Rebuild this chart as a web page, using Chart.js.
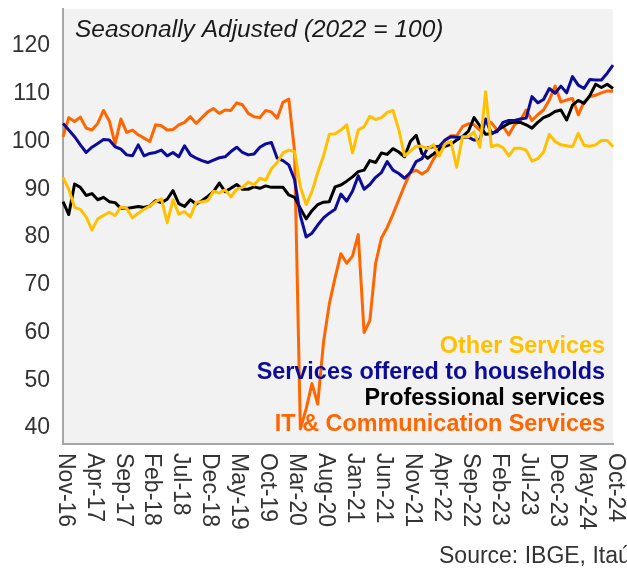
<!DOCTYPE html>
<html>
<head>
<meta charset="utf-8">
<script src="https://cdn.jsdelivr.net/npm/chart.js@4.4.0/dist/chart.umd.min.js"></script>
<style>
  html, body { margin: 0; padding: 0; background: #ffffff; }
  canvas { display: block; }
</style>
</head>
<body>
<canvas id="c" width="627" height="572"></canvas>
<script>
const months = [
  "Nov-16","Dec-16",
  "Jan-17","Feb-17","Mar-17","Apr-17","May-17","Jun-17","Jul-17","Aug-17","Sep-17","Oct-17","Nov-17","Dec-17",
  "Jan-18","Feb-18","Mar-18","Apr-18","May-18","Jun-18","Jul-18","Aug-18","Sep-18","Oct-18","Nov-18","Dec-18",
  "Jan-19","Feb-19","Mar-19","Apr-19","May-19","Jun-19","Jul-19","Aug-19","Sep-19","Oct-19","Nov-19","Dec-19",
  "Jan-20","Feb-20","Mar-20","Apr-20","May-20","Jun-20","Jul-20","Aug-20","Sep-20","Oct-20","Nov-20","Dec-20",
  "Jan-21","Feb-21","Mar-21","Apr-21","May-21","Jun-21","Jul-21","Aug-21","Sep-21","Oct-21","Nov-21","Dec-21",
  "Jan-22","Feb-22","Mar-22","Apr-22","May-22","Jun-22","Jul-22","Aug-22","Sep-22","Oct-22","Nov-22","Dec-22",
  "Jan-23","Feb-23","Mar-23","Apr-23","May-23","Jun-23","Jul-23","Aug-23","Sep-23","Oct-23","Nov-23","Dec-23",
  "Jan-24","Feb-24","Mar-24","Apr-24","May-24","Jun-24","Jul-24","Aug-24","Sep-24","Oct-24"
];

const xTickLabels = ["Nov-16","Apr-17","Sep-17","Feb-18","Jul-18","Dec-18","May-19","Oct-19","Mar-20","Aug-20",
  "Jan-21","Jun-21","Nov-21","Apr-22","Sep-22","Feb-23","Jul-23","Dec-23","May-24","Oct-24"];

const yTickValues = [40, 50, 60, 70, 80, 90, 100, 110, 120];

const otherServices = [
  92.5,90.0,86.2,85.8,84.2,81.5,83.8,84.5,85.2,84.5,86.3,86.0,84.0,85.0,85.8,86.5,87.4,88.0,83.0,87.8,
  84.8,85.3,84.2,87.3,87.4,87.6,89.6,89.2,89.9,88.4,90.0,90.4,91.5,90.9,92.3,91.9,94.3,95.6,97.6,98.2,
  97.9,90.5,86.8,89.5,93.5,97.0,101.5,101.6,102.4,103.5,97.6,102.4,103.1,105.3,104.6,105.0,106.1,106.5,102.5,97.0,
  98.0,99.0,99.0,98.5,99.3,97.0,99.5,100.0,94.6,101.0,101.0,102.0,98.8,110.4,98.9,99.3,98.7,97.0,98.6,98.6,
  98.2,95.9,96.4,97.8,101.5,100.0,99.3,99.1,98.9,101.7,99.2,99.0,99.3,100.2,100.2,98.9
];

const householdServices = [
  103.8,102.4,101.0,99.3,97.7,98.8,99.6,100.4,100.3,98.9,98.4,97.2,97.0,99.3,97.0,97.5,97.7,98.2,97.0,97.7,
  96.8,99.1,97.2,96.5,96.0,95.6,96.1,96.6,96.8,97.9,98.8,97.7,97.2,97.4,98.8,99.5,99.8,96.5,96.0,95.1,
  92.0,84.5,80.0,80.8,82.5,84.0,85.0,85.8,89.0,87.5,89.6,92.8,90.0,91.0,92.5,93.5,95.8,94.0,93.3,92.3,
  93.5,95.8,96.4,98.7,98.9,99.0,100.3,101.0,100.9,100.9,100.9,100.3,100.3,104.7,101.7,102.1,104.0,104.4,104.4,104.7,
  104.9,109.4,108.1,108.8,111.1,110.1,111.6,110.2,113.6,111.8,111.1,113.0,112.9,112.9,114.3,116.0
];

const professionalServices = [
  87.4,84.7,91.1,90.4,88.7,89.1,87.8,88.3,87.4,87.2,86.0,86.0,86.2,86.4,86.2,86.5,87.6,87.2,87.9,89.7,
  87.0,86.4,87.8,86.9,87.6,88.5,89.5,91.3,89.5,90.2,91.0,90.0,90.0,90.5,90.2,90.7,90.4,90.4,90.4,88.8,
  88.3,86.0,83.8,85.5,86.8,87.3,87.4,90.5,90.9,91.7,92.6,93.7,94.0,96.0,95.6,97.6,97.3,98.5,97.8,96.8,
  100.0,101.3,97.5,96.5,97.4,98.4,99.0,99.4,100.3,101.0,102.1,105.0,103.3,101.5,101.6,102.3,103.1,103.8,104.1,104.0,
  103.5,102.8,104.0,105.0,105.5,106.3,106.6,104.5,107.6,108.6,108.0,109.6,112.0,111.3,112.0,111.1
];

const itCommServices = [
  101.0,105.0,104.2,105.1,102.8,102.4,103.8,106.5,104.3,99.5,104.7,101.9,102.4,101.4,100.7,100.0,103.5,103.3,102.4,102.5,
  103.5,104.0,105.2,103.8,105.0,106.2,106.9,105.9,106.6,106.5,108.1,107.7,105.9,105.2,105.0,106.5,106.2,104.9,108.2,108.9,
  98.0,39.8,44.0,49.3,45.0,58.0,66.0,71.5,76.5,74.5,76.0,80.5,60.0,62.5,74.5,79.8,82.0,84.8,87.8,90.8,
  93.5,94.0,93.2,94.0,96.3,98.2,100.3,101.2,101.2,103.1,103.7,103.5,102.4,104.5,103.9,102.4,103.2,101.4,103.5,104.4,
  106.6,104.4,105.6,106.6,108.7,111.6,108.3,108.7,109.0,105.6,108.3,109.4,109.7,110.2,110.6,110.5
];

const seriesNames = ["Other Services", "Services offered to households", "Professional services", "IT & Communication Services"];
const seriesColors = ["#FFC000", "#0C0C96", "#000000", "#FF6600"];

const FONT = '"Liberation Sans", Arial, sans-serif';

const bgPlugin = {
  id: 'bg',
  beforeDraw(chart) {
    const { ctx, chartArea: a } = chart;
    ctx.save();
    ctx.fillStyle = '#f2f2f2';
    ctx.fillRect(a.left, a.top, a.right - a.left, a.bottom - a.top);
    ctx.restore();
  }
};

const textPlugin = {
  id: 'texts',
  afterDatasetsDraw(chart) {
    const { ctx } = chart;
    ctx.save();
    ctx.font = 'italic 24.5px ' + FONT;
    ctx.fillStyle = '#1a1a1a';
    ctx.textAlign = 'left';
    ctx.textBaseline = 'middle';
    ctx.fillText('Seasonally Adjusted (2022 = 100)', 75, 30);
    ctx.font = 'bold 23.4px ' + FONT;
    ctx.textAlign = 'right';
    const ys = [347, 373, 399, 425];
    seriesNames.forEach((n, i) => {
      ctx.fillStyle = seriesColors[i];
      ctx.fillText(n, 605, ys[i]);
    });
    ctx.restore();
  },
  afterDraw(chart) {
    const { ctx } = chart;
    const xs = chart.scales.x;
    ctx.save();
    ctx.font = '23px ' + FONT;
    ctx.fillStyle = '#333333';
    ctx.textAlign = 'left';
    ctx.textBaseline = 'middle';
    xTickLabels.forEach(lbl => {
      const px = xs.getPixelForValue(months.indexOf(lbl)) + 2;
      ctx.save();
      ctx.translate(px, 453);
      ctx.rotate(Math.PI / 2);
      ctx.fillText(lbl, 0, 0);
      ctx.restore();
    });
    ctx.fillText('Source: IBGE, Itaú', 439, 557);
    ctx.restore();
  }
};

const allSeries = [otherServices, householdServices, professionalServices, itCommServices];

new Chart(document.getElementById('c'), {
  type: 'line',
  data: {
    labels: months,
    datasets: allSeries.map((d, i) => ({
      label: seriesNames[i],
      data: d,
      borderColor: seriesColors[i],
      backgroundColor: seriesColors[i],
      borderWidth: 3,
      pointRadius: 0,
      tension: 0,
      fill: false,
      borderJoinStyle: 'round',
      order: i
    }))
  },
  options: {
    responsive: false,
    animation: false,
    devicePixelRatio: 1,
    layout: { padding: { top: 9, right: 14, left: 0, bottom: 0 } },
    plugins: {
      legend: { display: false },
      tooltip: { enabled: false },
      title: { display: false }
    },
    scales: {
      x: {
        type: 'category',
        offset: false,
        grid: { display: false, drawTicks: false },
        border: { display: true, color: '#a6a6a6', width: 2 },
        ticks: { display: false },
        afterFit(scale) {
          scale.height = 128;
          scale.paddingLeft = 0; scale.paddingRight = 0;
        }
      },
      y: {
        min: 36.65,
        max: 127.75,
        grid: { display: false, drawTicks: false },
        border: { display: true, color: '#a6a6a6', width: 2 },
        afterBuildTicks(scale) { scale.ticks = yTickValues.map(v => ({ value: v })); },
        ticks: {
          padding: 13,
          color: '#333333',
          font: { family: FONT, size: 23 },
          callback: (v) => String(v)
        },
        afterFit(scale) {
          scale.width = 63;
          scale.paddingTop = 0; scale.paddingBottom = 0;
        }
      }
    }
  },
  plugins: [bgPlugin, textPlugin]
});
</script>
</body>
</html>
